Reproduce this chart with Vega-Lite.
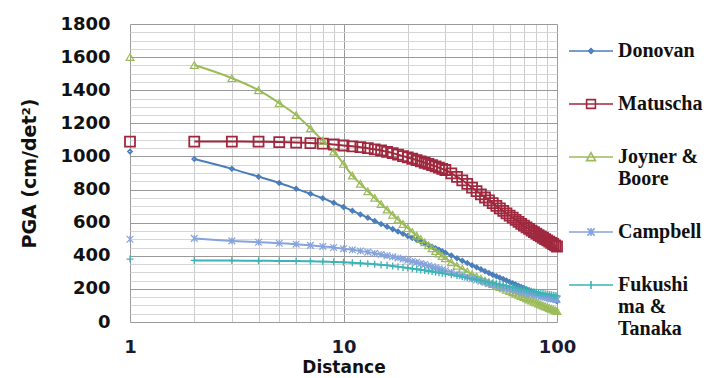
{
  "$schema": "https://vega.github.io/schema/vega-lite/v6.json",
  "width": 427,
  "height": 298,
  "autosize": {"type": "none"},
  "padding": {"left": 130, "top": 24, "right": 150, "bottom": 56},
  "background": "white",
  "config": {"view": {"stroke": null}},
  "data": {"values": [
    {"d": 1, "Donovan": 1030, "Matuscha": 1090, "Joyner & Boore": 1600, "Campbell": 500, "Fukushima & Tanaka": 380},
    {"d": 2, "Donovan": 984, "Matuscha": 1090, "Joyner & Boore": 1552, "Campbell": 505, "Fukushima & Tanaka": 372},
    {"d": 3, "Donovan": 925, "Matuscha": 1090, "Joyner & Boore": 1473, "Campbell": 490, "Fukushima & Tanaka": 371},
    {"d": 4, "Donovan": 878, "Matuscha": 1089, "Joyner & Boore": 1400, "Campbell": 482, "Fukushima & Tanaka": 370},
    {"d": 5, "Donovan": 840, "Matuscha": 1087, "Joyner & Boore": 1322, "Campbell": 476, "Fukushima & Tanaka": 369},
    {"d": 6, "Donovan": 805, "Matuscha": 1084, "Joyner & Boore": 1250, "Campbell": 470, "Fukushima & Tanaka": 368},
    {"d": 7, "Donovan": 775, "Matuscha": 1081, "Joyner & Boore": 1170, "Campbell": 463, "Fukushima & Tanaka": 367},
    {"d": 8, "Donovan": 748, "Matuscha": 1078, "Joyner & Boore": 1095, "Campbell": 456, "Fukushima & Tanaka": 365},
    {"d": 9, "Donovan": 720, "Matuscha": 1072, "Joyner & Boore": 1030, "Campbell": 450, "Fukushima & Tanaka": 363},
    {"d": 10, "Donovan": 695, "Matuscha": 1066, "Joyner & Boore": 955, "Campbell": 443, "Fukushima & Tanaka": 361},
    {"d": 11, "Donovan": 672, "Matuscha": 1061, "Joyner & Boore": 885, "Campbell": 436, "Fukushima & Tanaka": 358},
    {"d": 12, "Donovan": 650, "Matuscha": 1056, "Joyner & Boore": 835, "Campbell": 429, "Fukushima & Tanaka": 355},
    {"d": 13, "Donovan": 630, "Matuscha": 1050, "Joyner & Boore": 790, "Campbell": 422, "Fukushima & Tanaka": 352},
    {"d": 14, "Donovan": 610, "Matuscha": 1043, "Joyner & Boore": 750, "Campbell": 415, "Fukushima & Tanaka": 349},
    {"d": 15, "Donovan": 592, "Matuscha": 1036, "Joyner & Boore": 713, "Campbell": 408, "Fukushima & Tanaka": 345},
    {"d": 16, "Donovan": 576, "Matuscha": 1028, "Joyner & Boore": 679, "Campbell": 401, "Fukushima & Tanaka": 342},
    {"d": 17, "Donovan": 561, "Matuscha": 1020, "Joyner & Boore": 648, "Campbell": 394, "Fukushima & Tanaka": 338},
    {"d": 18, "Donovan": 547, "Matuscha": 1011, "Joyner & Boore": 619, "Campbell": 387, "Fukushima & Tanaka": 334},
    {"d": 19, "Donovan": 533, "Matuscha": 1002, "Joyner & Boore": 592, "Campbell": 380, "Fukushima & Tanaka": 330},
    {"d": 20, "Donovan": 520, "Matuscha": 994, "Joyner & Boore": 567, "Campbell": 373, "Fukushima & Tanaka": 326},
    {"d": 21, "Donovan": 508, "Matuscha": 986, "Joyner & Boore": 544, "Campbell": 366, "Fukushima & Tanaka": 322},
    {"d": 22, "Donovan": 497, "Matuscha": 978, "Joyner & Boore": 522, "Campbell": 360, "Fukushima & Tanaka": 319},
    {"d": 23, "Donovan": 486, "Matuscha": 970, "Joyner & Boore": 501, "Campbell": 353, "Fukushima & Tanaka": 315},
    {"d": 24, "Donovan": 475, "Matuscha": 962, "Joyner & Boore": 481, "Campbell": 347, "Fukushima & Tanaka": 312},
    {"d": 25, "Donovan": 465, "Matuscha": 955, "Joyner & Boore": 463, "Campbell": 340, "Fukushima & Tanaka": 308},
    {"d": 26, "Donovan": 455, "Matuscha": 947, "Joyner & Boore": 445, "Campbell": 334, "Fukushima & Tanaka": 305},
    {"d": 27, "Donovan": 445, "Matuscha": 940, "Joyner & Boore": 429, "Campbell": 328, "Fukushima & Tanaka": 301},
    {"d": 28, "Donovan": 436, "Matuscha": 932, "Joyner & Boore": 413, "Campbell": 322, "Fukushima & Tanaka": 298},
    {"d": 29, "Donovan": 427, "Matuscha": 925, "Joyner & Boore": 399, "Campbell": 316, "Fukushima & Tanaka": 295},
    {"d": 30, "Donovan": 418, "Matuscha": 918, "Joyner & Boore": 385, "Campbell": 311, "Fukushima & Tanaka": 292},
    {"d": 32, "Donovan": 401, "Matuscha": 898, "Joyner & Boore": 361, "Campbell": 300, "Fukushima & Tanaka": 285},
    {"d": 34, "Donovan": 385, "Matuscha": 877, "Joyner & Boore": 340, "Campbell": 290, "Fukushima & Tanaka": 279},
    {"d": 36, "Donovan": 370, "Matuscha": 856, "Joyner & Boore": 321, "Campbell": 280, "Fukushima & Tanaka": 273},
    {"d": 38, "Donovan": 356, "Matuscha": 834, "Joyner & Boore": 304, "Campbell": 271, "Fukushima & Tanaka": 267},
    {"d": 40, "Donovan": 343, "Matuscha": 812, "Joyner & Boore": 288, "Campbell": 262, "Fukushima & Tanaka": 261},
    {"d": 42, "Donovan": 330, "Matuscha": 791, "Joyner & Boore": 275, "Campbell": 254, "Fukushima & Tanaka": 256},
    {"d": 44, "Donovan": 318, "Matuscha": 771, "Joyner & Boore": 262, "Campbell": 246, "Fukushima & Tanaka": 250},
    {"d": 46, "Donovan": 307, "Matuscha": 752, "Joyner & Boore": 250, "Campbell": 239, "Fukushima & Tanaka": 245},
    {"d": 48, "Donovan": 296, "Matuscha": 735, "Joyner & Boore": 239, "Campbell": 232, "Fukushima & Tanaka": 240},
    {"d": 50, "Donovan": 286, "Matuscha": 718, "Joyner & Boore": 229, "Campbell": 226, "Fukushima & Tanaka": 236},
    {"d": 52, "Donovan": 277, "Matuscha": 701, "Joyner & Boore": 220, "Campbell": 220, "Fukushima & Tanaka": 231},
    {"d": 54, "Donovan": 268, "Matuscha": 686, "Joyner & Boore": 211, "Campbell": 215, "Fukushima & Tanaka": 226},
    {"d": 56, "Donovan": 259, "Matuscha": 671, "Joyner & Boore": 203, "Campbell": 209, "Fukushima & Tanaka": 222},
    {"d": 58, "Donovan": 250, "Matuscha": 656, "Joyner & Boore": 195, "Campbell": 204, "Fukushima & Tanaka": 218},
    {"d": 60, "Donovan": 242, "Matuscha": 643, "Joyner & Boore": 187, "Campbell": 199, "Fukushima & Tanaka": 214},
    {"d": 62, "Donovan": 234, "Matuscha": 630, "Joyner & Boore": 179, "Campbell": 195, "Fukushima & Tanaka": 210},
    {"d": 64, "Donovan": 226, "Matuscha": 617, "Joyner & Boore": 172, "Campbell": 190, "Fukushima & Tanaka": 206},
    {"d": 66, "Donovan": 219, "Matuscha": 605, "Joyner & Boore": 164, "Campbell": 186, "Fukushima & Tanaka": 203},
    {"d": 68, "Donovan": 212, "Matuscha": 593, "Joyner & Boore": 157, "Campbell": 182, "Fukushima & Tanaka": 199},
    {"d": 70, "Donovan": 205, "Matuscha": 582, "Joyner & Boore": 150, "Campbell": 178, "Fukushima & Tanaka": 196},
    {"d": 72, "Donovan": 198, "Matuscha": 572, "Joyner & Boore": 143, "Campbell": 174, "Fukushima & Tanaka": 193},
    {"d": 74, "Donovan": 192, "Matuscha": 562, "Joyner & Boore": 136, "Campbell": 170, "Fukushima & Tanaka": 189},
    {"d": 76, "Donovan": 186, "Matuscha": 552, "Joyner & Boore": 129, "Campbell": 167, "Fukushima & Tanaka": 186},
    {"d": 78, "Donovan": 180, "Matuscha": 543, "Joyner & Boore": 123, "Campbell": 164, "Fukushima & Tanaka": 183},
    {"d": 80, "Donovan": 174, "Matuscha": 534, "Joyner & Boore": 117, "Campbell": 160, "Fukushima & Tanaka": 180},
    {"d": 82, "Donovan": 169, "Matuscha": 525, "Joyner & Boore": 111, "Campbell": 157, "Fukushima & Tanaka": 178},
    {"d": 84, "Donovan": 164, "Matuscha": 517, "Joyner & Boore": 105, "Campbell": 154, "Fukushima & Tanaka": 175},
    {"d": 86, "Donovan": 159, "Matuscha": 509, "Joyner & Boore": 100, "Campbell": 152, "Fukushima & Tanaka": 173},
    {"d": 88, "Donovan": 154, "Matuscha": 501, "Joyner & Boore": 95, "Campbell": 149, "Fukushima & Tanaka": 170},
    {"d": 90, "Donovan": 149, "Matuscha": 493, "Joyner & Boore": 90, "Campbell": 146, "Fukushima & Tanaka": 168},
    {"d": 92, "Donovan": 145, "Matuscha": 485, "Joyner & Boore": 85, "Campbell": 144, "Fukushima & Tanaka": 166},
    {"d": 94, "Donovan": 140, "Matuscha": 478, "Joyner & Boore": 80, "Campbell": 141, "Fukushima & Tanaka": 164},
    {"d": 96, "Donovan": 135, "Matuscha": 471, "Joyner & Boore": 75, "Campbell": 139, "Fukushima & Tanaka": 162},
    {"d": 98, "Donovan": 131, "Matuscha": 463, "Joyner & Boore": 70, "Campbell": 137, "Fukushima & Tanaka": 160},
    {"d": 100, "Donovan": 126, "Matuscha": 456, "Joyner & Boore": 66, "Campbell": 135, "Fukushima & Tanaka": 158}
  ]},
  "transform": [
    {"fold": ["Donovan", "Matuscha", "Joyner & Boore", "Campbell", "Fukushima & Tanaka"], "as": ["series", "pga"]}
  ],
  "encoding": {
    "x": {
      "field": "d", "type": "quantitative",
      "scale": {"type": "log", "domain": [1, 100], "nice": false},
      "axis": {
        "values": [1, 2, 3, 4, 5, 6, 7, 8, 9, 10, 20, 30, 40, 50, 60, 70, 80, 90, 100],
        "labelExpr": "(datum.value == 1 || datum.value == 10 || datum.value == 100) ? datum.value : ''",
        "title": "Distance",
        "titleFont": "DejaVu Sans", "titleFontSize": 17, "titleFontWeight": "bold", "titleColor": "#111",
        "titlePadding": 3,
        "labelFont": "DejaVu Sans", "labelFontSize": 18, "labelFontWeight": "bold", "labelColor": "#1a1a2e",
        "labelPadding": 16, "labelFlush": false, "labelOverlap": false,
        "ticks": false, "domain": false,
        "grid": true,
        "gridColor": {"condition": {"test": "datum.value == 1 || datum.value == 10 || datum.value == 100", "value": "#9a9a9a"}, "value": "#cdcdcd"},
        "gridWidth": 1
      }
    },
    "y": {
      "field": "pga", "type": "quantitative",
      "scale": {"domain": [0, 1800], "nice": false},
      "axis": {
        "values": [0, 50, 100, 150, 200, 250, 300, 350, 400, 450, 500, 550, 600, 650, 700, 750, 800, 850, 900, 950, 1000, 1050, 1100, 1150, 1200, 1250, 1300, 1350, 1400, 1450, 1500, 1550, 1600, 1650, 1700, 1750, 1800],
        "labelExpr": "datum.value % 200 == 0 ? datum.value : ''",
        "title": "PGA (cm/det²)",
        "titleFont": "DejaVu Sans", "titleFontSize": 19, "titleFontWeight": "bold", "titleColor": "#111",
        "titlePadding": 20,
        "labelFont": "DejaVu Sans", "labelFontSize": 18, "labelFontWeight": "bold", "labelColor": "#111",
        "labelPadding": 20, "labelOverlap": false,
        "ticks": false, "domain": false,
        "grid": true,
        "gridColor": {"condition": {"test": "datum.value % 200 == 0", "value": "#9a9a9a"}, "value": "#d6d6d6"},
        "gridWidth": 1
      }
    }
  },
  "layer": [
    {
      "transform": [{"filter": "datum.d >= 2"}],
      "mark": {"type": "line", "strokeWidth": 2, "interpolate": "monotone"},
      "encoding": {
        "stroke": {"field": "series", "type": "nominal",
          "scale": {"domain": ["Campbell", "Donovan", "Fukushima & Tanaka", "Joyner & Boore", "Matuscha"],
                    "range": ["#86a3dc", "#4a7ebb", "#3db3b5", "#9bbb59", "#a0283e"]},
          "legend": null}
      }
    },
    {
      "transform": [{"filter": "datum.series == 'Donovan'"}],
      "mark": {"type": "point", "shape": "diamond", "filled": false, "size": 18, "strokeWidth": 1.6, "opacity": 1},
      "encoding": {"stroke": {"field": "series", "type": "nominal", "legend": null}}
    },
    {
      "transform": [{"filter": "datum.series == 'Matuscha'"}],
      "mark": {"type": "point", "shape": "square", "filled": false, "size": 100, "strokeWidth": 1.8, "opacity": 1},
      "encoding": {"stroke": {"field": "series", "type": "nominal", "legend": null}}
    },
    {
      "transform": [{"filter": "datum.series == 'Joyner & Boore'"}],
      "mark": {"type": "point", "shape": "triangle-up", "filled": false, "size": 60, "strokeWidth": 1.2, "opacity": 1},
      "encoding": {"stroke": {"field": "series", "type": "nominal", "legend": null}}
    },
    {
      "transform": [{"filter": "datum.series == 'Campbell'"}],
      "mark": {"type": "point", "shape": "M-1,-1L1,1M-1,1L1,-1M0,-1L0,1", "filled": false, "size": 45, "strokeWidth": 1.2, "opacity": 1},
      "encoding": {"stroke": {"field": "series", "type": "nominal", "legend": null}}
    },
    {
      "transform": [{"filter": "datum.series == 'Fukushima & Tanaka'"}],
      "mark": {"type": "point", "shape": "M0,-1L0,1M-1,0L1,0", "filled": false, "size": 50, "strokeWidth": 1.3, "opacity": 1},
      "encoding": {"stroke": {"field": "series", "type": "nominal", "legend": null}}
    },
    {
      "transform": [{"filter": "datum.d > 1000"}],
      "mark": {"type": "point", "filled": false},
      "encoding": {
        "color": {"field": "series", "type": "nominal",
          "scale": {"domain": ["Donovan", "Matuscha", "Joyner & Boore", "Campbell", "Fukushima & Tanaka"],
                    "range": ["#4a7ebb", "#a0283e", "#9bbb59", "#86a3dc", "#3db3b5"]},
          "legend": {
            "title": null, "orient": "none", "legendX": 451, "legendY": 17,
            "padding": 0, "rowPadding": 33,
            "symbolSize": 64, "symbolStrokeWidth": 1.6, "symbolOpacity": 1,
            "labelOffset": 17, "labelFont": "Liberation Serif", "labelFontSize": 20, "labelFontWeight": "bold",
            "labelColor": "#111", "labelLimit": 300, "labelBaseline": "middle",
            "labelExpr": "datum.label == 'Joyner & Boore' ? ['Joyner &', 'Boore'] : datum.label == 'Fukushima & Tanaka' ? ['Fukushi', 'ma &', 'Tanaka'] : datum.label"
          }},
        "shape": {"field": "series", "type": "nominal",
          "scale": {"domain": ["Donovan", "Matuscha", "Joyner & Boore", "Campbell", "Fukushima & Tanaka"],
                    "range": [
                      "M-5.5,0H5.5M0,-0.6L0.6,0L0,0.6L-0.6,0Z",
                      "M-5.5,0H5.5M-1.1,-1.1H1.1V1.1H-1.1Z",
                      "M-5.5,0H5.5M0,-1.1L1.1,0.9H-1.1Z",
                      "M-5.5,0H5.5M-0.9,-0.9L0.9,0.9M-0.9,0.9L0.9,-0.9M0,-1L0,1",
                      "M-5.5,0H5.5M0,-1L0,1"
                    ]},
          "legend": {
            "title": null, "orient": "none", "legendX": 451, "legendY": 17,
            "padding": 0, "rowPadding": 33,
            "symbolSize": 64, "symbolStrokeWidth": 1.6, "symbolOpacity": 1,
            "labelOffset": 17, "labelFont": "Liberation Serif", "labelFontSize": 20, "labelFontWeight": "bold",
            "labelColor": "#111", "labelLimit": 300, "labelBaseline": "middle",
            "labelExpr": "datum.label == 'Joyner & Boore' ? ['Joyner &', 'Boore'] : datum.label == 'Fukushima & Tanaka' ? ['Fukushi', 'ma &', 'Tanaka'] : datum.label"
          }}
      }
    }
  ]
}
